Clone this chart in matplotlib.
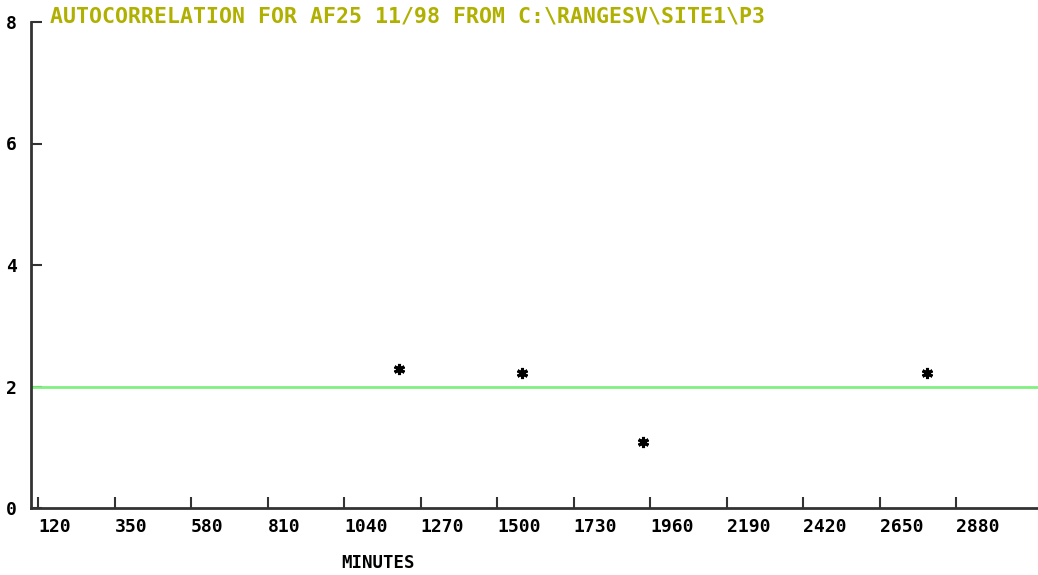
import matplotlib.pyplot as plt

minutes = [1206, 1573, 1938, 2790]
autocorr = [2.29, 2.23, 1.08, 2.23]
limit = 2.0
xticks = [120, 350, 580, 810, 1040, 1270, 1500, 1730, 1960, 2190, 2420, 2650, 2880]
yticks = [0, 2, 4, 6, 8]

plt.rcParams['font.family'] = ['DejaVu Sans Mono']
plt.rcParams['font.weight'] = 'bold'

fig = plt.figure(figsize=(10.38, 5.75), dpi=100)
ax = fig.add_axes([31 / 1038, 67 / 575, 1 - 31 / 1038, 486 / 575])

ax.axhline(limit, color='#80f080', linewidth=2)
ax.plot(minutes, autocorr, linestyle='none', marker=(6, 2, 0), markersize=8,
        markeredgewidth=2.2, color='black')

ax.set_xlim(99, 3125)
ax.set_ylim(0, 8)
ax.set_xticks(xticks)
ax.set_xticklabels([str(t) for t in xticks], ha='left')
ax.set_yticks(yticks)
ax.tick_params(axis='both', direction='in', length=8, width=1.5, color='#333333',
               labelsize=13)
ax.tick_params(axis='x', pad=7)
ax.tick_params(axis='y', pad=10)
for s in ['top', 'right']:
    ax.spines[s].set_visible(False)
for s in ['left', 'bottom']:
    ax.spines[s].set_linewidth(2)
    ax.spines[s].set_color('#333333')

ax.set_xlabel('MINUTES', fontsize=12.5, fontweight='bold', labelpad=13, x=0.345)
fig.text(50 / 1038, 1 - 16 / 575, 'AUTOCORRELATION FOR AF25 11/98 FROM C:\\RANGESV\\SITE1\\P3',
         color='#b0b000', fontsize=15.5, fontweight='bold', va='center', ha='left')

fig.savefig('out.png', dpi=100)
